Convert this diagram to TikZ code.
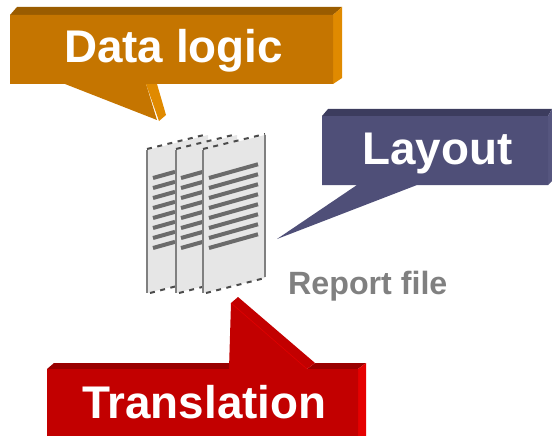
\documentclass[tikz,border=0pt]{standalone}
\usepackage{fontspec}
\setmainfont{Liberation Sans}
\definecolor{ochre}{HTML}{C57500}
\definecolor{ochretop}{HTML}{9A5C00}
\definecolor{ochreside}{HTML}{E08A00}
\definecolor{slate}{HTML}{4F4F78}
\definecolor{slatetop}{HTML}{3C3C5E}
\definecolor{slateside}{HTML}{56567F}
\definecolor{crimson}{HTML}{C20000}
\definecolor{crimsontop}{HTML}{990000}
\definecolor{crimsonside}{HTML}{E60000}
\definecolor{sheet}{HTML}{E6E6E6}
\begin{document}
\begin{tikzpicture}[x=1pt, y=-1pt]
      \tikzset{title/.style={anchor=base west, inner sep=0pt, text=white, font=\fontsize{45.8}{54}\selectfont\bfseries},
        caption/.style={anchor=base west, inner sep=0pt, text=black!50, font=\fontsize{32.2}{38}\selectfont\bfseries},
        page/.style={fill=sheet, draw=none},
        pageedge/.style={draw=black!50, line width=1.5pt},
        perforation/.style={draw=black!70, line width=2pt, dash pattern=on 5pt off 5.5pt},
        textline/.style={draw=black!58, line width=4pt}}
      \useasboundingbox (0,0) rectangle (552,436);
      \fill[ochretop] (10,15) -- (17,7) -- (342,7) -- (333,15) -- cycle;
      \fill[ochreside] (333,15) -- (342,7) -- (342,78) -- (333,84) -- cycle;
      \fill[ochreside] (146,84) -- (157,84) -- (166,115) -- (159,121) -- cycle;
      \fill[ochre] (10,15) -- (333,15) -- (333,84) -- (146,84) -- (157,120) -- (65,84) -- (10,84) -- cycle;
      \fill[slatetop] (322,116) -- (328,109) -- (552,109) -- (548,116) -- cycle;
      \fill[slateside] (548,116) -- (552,109) -- (552,181) -- (548,185) -- cycle;
      \fill[slate] (322,116) -- (548,116) -- (548,185) -- (417,185) -- (277,239) -- (357,185) -- (322,185) -- cycle;
      \fill[crimsontop] (47,369) -- (54,363) -- (229,363) -- (229,369) -- cycle;
      \fill[crimsontop] (307,369) -- (315,363) -- (366,363) -- (358,369) -- cycle;
      \fill[crimsonside] (358,369) -- (366,363) -- (366,436) -- (358,436) -- cycle;
      \fill[crimson] (47,369) -- (229,369) -- (231,303) -- (238,297) -- (315,363) -- (307,369) -- (358,369) -- (358,436) -- (47,436) -- cycle;
      \draw[crimsonside!85!crimson, line width=0.6pt] (231,303) -- (307,369);
      \foreach \leftx/\rightx/\linea/\lineb in {147/208/153/175, 176/237/181/203, 203/265/209/258}{
        \fill[page] (\leftx,150) -- (\rightx,135) -- (\rightx,278) -- (\leftx,293) -- cycle;
        \draw[pageedge] (\leftx,150) -- (\leftx,293);
        \draw[perforation] (\leftx,149) -- (\rightx,134);
        \draw[perforation] (\leftx+3,293) -- (\rightx,278);
        \foreach \i in {0,...,7}{
          \draw[textline] (\linea,178+10*\i) -- (\lineb,{178+10*\i-(\lineb-\linea)*0.28});
        }
      }
      \draw[pageedge] (265,135) -- (265,277);
      \node[title] (datalogic) at (64,63) {Data logic};
      \node[title] (layout) at (362,164) {Layout};
      \node[title] (translation) at (82,418) {Translation};
      \node[caption] (reportfile) at (288,294) {Report file};
    \end{tikzpicture}
\end{document}
